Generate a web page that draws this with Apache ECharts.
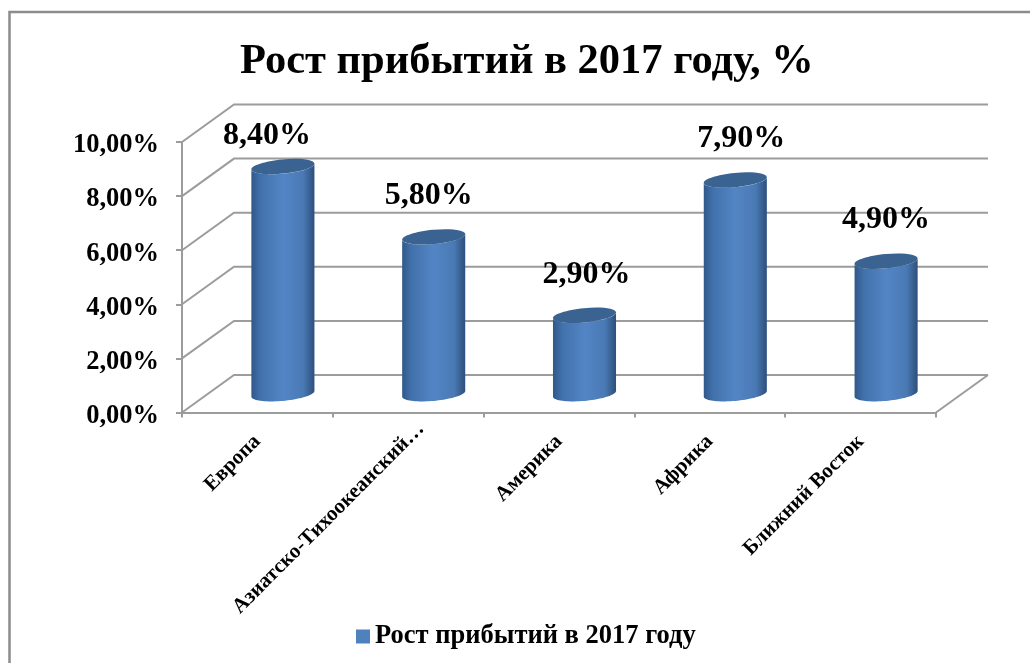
<!DOCTYPE html>
<html>
<head>
<meta charset="utf-8">
<style>html,body{margin:0;padding:0;background:#fff}#chart{width:1030px;height:663px}</style>
<script src="https://cdn.jsdelivr.net/npm/echarts@6/dist/echarts.min.js"></script>
</head>
<body>
<div id="chart"></div>
<script>
// Arrivals growth by region, 2017, percent
const categories = ['Европа', 'Азиатско-Тихоокеанский…', 'Америка', 'Африка', 'Ближний Восток'];
const growth = [8.4, 5.8, 2.9, 7.9, 4.9];
const yTicks = [0, 2, 4, 6, 8, 10];
const seriesName = 'Рост прибытий в 2017 году';
const chartTitle = 'Рост прибытий в 2017 году, %';

// Shift from the front plane of the box to its back wall
const DEPTH_X = 52, DEPTH_Y = -37.5;
const GRID_COLOR = '#9c9c9c';
const SERIF = '"Liberation Serif", "DejaVu Serif", serif';
const pct = v => v.toFixed(2).replace('.', ',') + '%';

// Hand-placed label shifts per column, relative to the column axis
const labelShift = [[-16, 13], [-5, 3], [2, 3], [6, 3], [0, 3]];

// Point on a tilted ellipse
function ellipsePoint(cx, cy, a, b, tilt, th) {
  const u = a * Math.cos(th), v = b * Math.sin(th);
  return [cx + u * Math.cos(tilt) - v * Math.sin(tilt), cy + u * Math.sin(tilt) + v * Math.cos(tilt)];
}

function renderWalls(params, api) {
  const v = api.value(0);
  const cs = params.coordSys;
  const x0 = cs.x, x1 = cs.x + cs.width, y = api.coord([0, v])[1];
  const children = [{
    type: 'polyline',
    shape: { points: [[x0, y], [x0 + DEPTH_X, y + DEPTH_Y], [x1 + DEPTH_X, y + DEPTH_Y]] },
    style: { fill: null, stroke: GRID_COLOR, lineWidth: 2 }
  }];
  if (v === 0) {
    children.push({
      type: 'line',
      shape: { x1: x1, y1: y, x2: x1 + DEPTH_X, y2: y + DEPTH_Y },
      style: { stroke: GRID_COLOR, lineWidth: 2 }
    });
  }
  return { type: 'group', children };
}

function renderColumn(params, api) {
  const idx = api.value(0), val = api.value(1);
  const top = api.coord([idx, val]), base = api.coord([idx, 0]);
  const band = api.size([1, 0])[0];
  const a = band * 0.21, b = a * 0.225, tilt = -5.4 * Math.PI / 180;
  const cx = base[0] + DEPTH_X / 2 - 0.5, yb = base[1] + DEPTH_Y / 2, yt = top[1] + DEPTH_Y / 2;
  const th0 = Math.atan2(-b * Math.sin(tilt), a * Math.cos(tilt));
  const pts = [];
  const N = 40;
  for (let i = 0; i <= N; i++) pts.push(ellipsePoint(cx, yb, a, b, tilt, th0 + Math.PI * i / N));
  for (let i = 0; i <= N; i++) pts.push(ellipsePoint(cx, yt, a, b, tilt, th0 + Math.PI - Math.PI * i / N));
  const shift = labelShift[idx];
  return {
    type: 'group',
    children: [{
      type: 'polygon',
      shape: { points: pts },
      style: {
        fill: new echarts.graphic.LinearGradient(0, 0, 1, 0, [
          { offset: 0, color: '#30588a' },
          { offset: 0.15, color: '#4272ac' },
          { offset: 0.5, color: '#5385c5' },
          { offset: 0.82, color: '#4a7ab5' },
          { offset: 1, color: '#2d4f7c' }
        ])
      }
    }, {
      type: 'ellipse',
      shape: { cx: 0, cy: 0, rx: a, ry: b },
      x: cx, y: yt, rotation: -tilt,
      style: { fill: '#3b6392' }
    }, {
      type: 'text',
      x: cx + shift[0], y: yt - 44 + shift[1],
      style: {
        text: pct(val), font: 'bold 32px ' + SERIF, fill: '#000',
        align: 'center', verticalAlign: 'middle'
      }
    }]
  };
}

const chart = echarts.init(document.getElementById('chart'), null, { renderer: 'canvas' });
chart.setOption({
  animation: false,
  backgroundColor: '#fff',
  title: {
    text: chartTitle, left: 235, top: 36,
    textStyle: { fontFamily: SERIF, fontWeight: 'bold', fontSize: 42.5, color: '#000' }
  },
  legend: {
    data: [seriesName], bottom: 8, left: 351,
    icon: 'rect', itemWidth: 14, itemHeight: 14,
    textStyle: { fontFamily: SERIF, fontWeight: 'bold', fontSize: 26.5, color: '#000' }
  },
  grid: { left: 182, top: 142, width: 754, height: 270.5 },
  xAxis: {
    type: 'category',
    data: categories.map(c => c.endsWith('…')
      ? { value: c, textStyle: { padding: [0, -18, 0, 0] } }
      : c),
    axisLine: { lineStyle: { color: GRID_COLOR, width: 2 } },
    axisTick: { show: true, alignWithLabel: false, length: 5, lineStyle: { color: GRID_COLOR, width: 2 } },
    axisLabel: {
      interval: 0, rotate: 45, margin: 26,
      fontFamily: SERIF, fontWeight: 'bold', fontSize: 21, color: '#000'
    }
  },
  yAxis: {
    type: 'value', min: 0, max: 10, interval: 2,
    axisLine: { show: true, lineStyle: { color: GRID_COLOR, width: 2 } },
    axisTick: { show: true, length: 6, lineStyle: { color: GRID_COLOR, width: 2 } },
    splitLine: { show: false },
    axisLabel: {
      margin: 23, formatter: v => pct(v), verticalAlign: 'top', padding: [-10, 0, 0, 0],
      fontFamily: SERIF, fontWeight: 'bold', fontSize: 26.5, color: '#000'
    }
  },
  series: [{
    type: 'custom', name: 'walls', silent: true, z: 1,
    renderItem: renderWalls, data: yTicks.map(t => [t]),
    encode: { y: 0 }
  }, {
    type: 'custom', name: seriesName, z: 3,
    itemStyle: { color: '#4f81bd' },
    renderItem: renderColumn,
    data: growth.map((v, i) => [i, v]),
    encode: { x: 0, y: 1 }
  }],
  // Top and left edges of the chart frame; the others fall outside the page
  graphic: [{
    type: 'polyline', silent: true, z: 10,
    shape: { points: [[9.5, 663], [9.5, 12], [1030, 12]] },
    style: { fill: null, stroke: '#8c8c8c', lineWidth: 2.5 }
  }]
});
</script>
</body>
</html>
